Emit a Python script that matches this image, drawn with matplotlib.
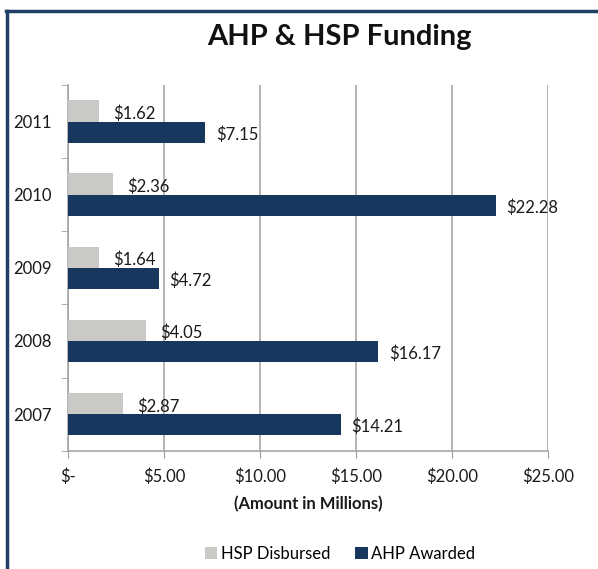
import matplotlib
matplotlib.use("Agg")
import matplotlib.pyplot as plt
from matplotlib.lines import Line2D
from matplotlib.patches import Patch
import numpy as np

years = ["2007", "2008", "2009", "2010", "2011"]
hsp_disbursed = [2.87, 4.05, 1.64, 2.36, 1.62]
ahp_awarded = [14.21, 16.17, 4.72, 22.28, 7.15]
x_ticks = [0, 5, 10, 15, 20, 25]
x_ticklabels = ["$-", "$5.00", "$10.00", "$15.00", "$20.00", "$25.00"]

plt.rcParams['font.family'] = ['Lato', 'DejaVu Sans']

W, H = 598, 569
fig = plt.figure(figsize=(W/100, H/100), dpi=100)
ax = fig.add_axes([68/W, 1-450.7/H, (548-68)/W, (450.7-85)/H])

gray = "#c9c9c5"
navy = "#17375e"
txt = "#1a1a1a"
fs = 12
bh = 0.29
y = np.arange(len(years))
ax.barh(y + bh/2, hsp_disbursed, height=bh, color=gray, zorder=3)
ax.barh(y - bh/2, ahp_awarded, height=bh, color=navy, zorder=3)

for yi, v in zip(y, hsp_disbursed):
    ax.annotate(f"${v:.2f}", (v, yi + bh/2), xytext=(10, -2), textcoords="offset points",
                va="center", ha="left", fontsize=fs, color=txt)
for yi, v in zip(y, ahp_awarded):
    ax.annotate(f"${v:.2f}", (v, yi - bh/2), xytext=(7.5, -1.5), textcoords="offset points",
                va="center", ha="left", fontsize=fs, color=txt)

ax.set_xlim(0, 25)
ax.set_ylim(-0.5, len(years) - 0.5)
ax.set_xticks(x_ticks)
ax.set_xticklabels(x_ticklabels, fontsize=fs, color=txt)
ax.set_yticks(y)
ax.set_yticklabels(years, fontsize=fs, color=txt)
ax.set_yticks(np.arange(-0.5, len(years), 1), minor=True)
ax.tick_params(axis="y", which="major", length=0, pad=11.5)
ax.tick_params(axis="y", which="minor", length=5, color="#a0a0a0", direction="out")
ax.tick_params(axis="x", which="major", length=5, color="#a0a0a0", direction="out", pad=8)
ax.grid(axis="x", color="#a0a0a0", linewidth=1.1, zorder=0)
for s in ["top", "right"]:
    ax.spines[s].set_visible(False)
for s in ["left", "bottom"]:
    ax.spines[s].set_color("#a0a0a0")
    ax.spines[s].set_linewidth(1.1)
ax.set_xlabel("(Amount in Millions)", fontsize=fs, fontweight="bold", labelpad=8, color=txt)

fig.text(339/W, 1-37/H, "AHP & HSP Funding", ha="center", va="center",
         fontsize=21, fontweight="bold", color="#111111")

handles = [Patch(facecolor=gray, edgecolor="none", label="HSP Disbursed"),
           Patch(facecolor=navy, edgecolor="none", label="AHP Awarded")]
fig.legend(handles=handles, loc="center", bbox_to_anchor=(340/W, 1-554/H), ncol=2,
           frameon=False, fontsize=fs, handlelength=0.75, handleheight=0.75,
           handletextpad=0.2, columnspacing=1.5)

border = "#1f3f66"
fig.add_artist(Line2D([7/W, 7/W], [0, 1-11/H], color=border, linewidth=2.5, transform=fig.transFigure))
fig.add_artist(Line2D([6/W, 1], [1-11/H, 1-11/H], color=border, linewidth=2.5, transform=fig.transFigure))

fig.savefig("out.png", dpi=100)
